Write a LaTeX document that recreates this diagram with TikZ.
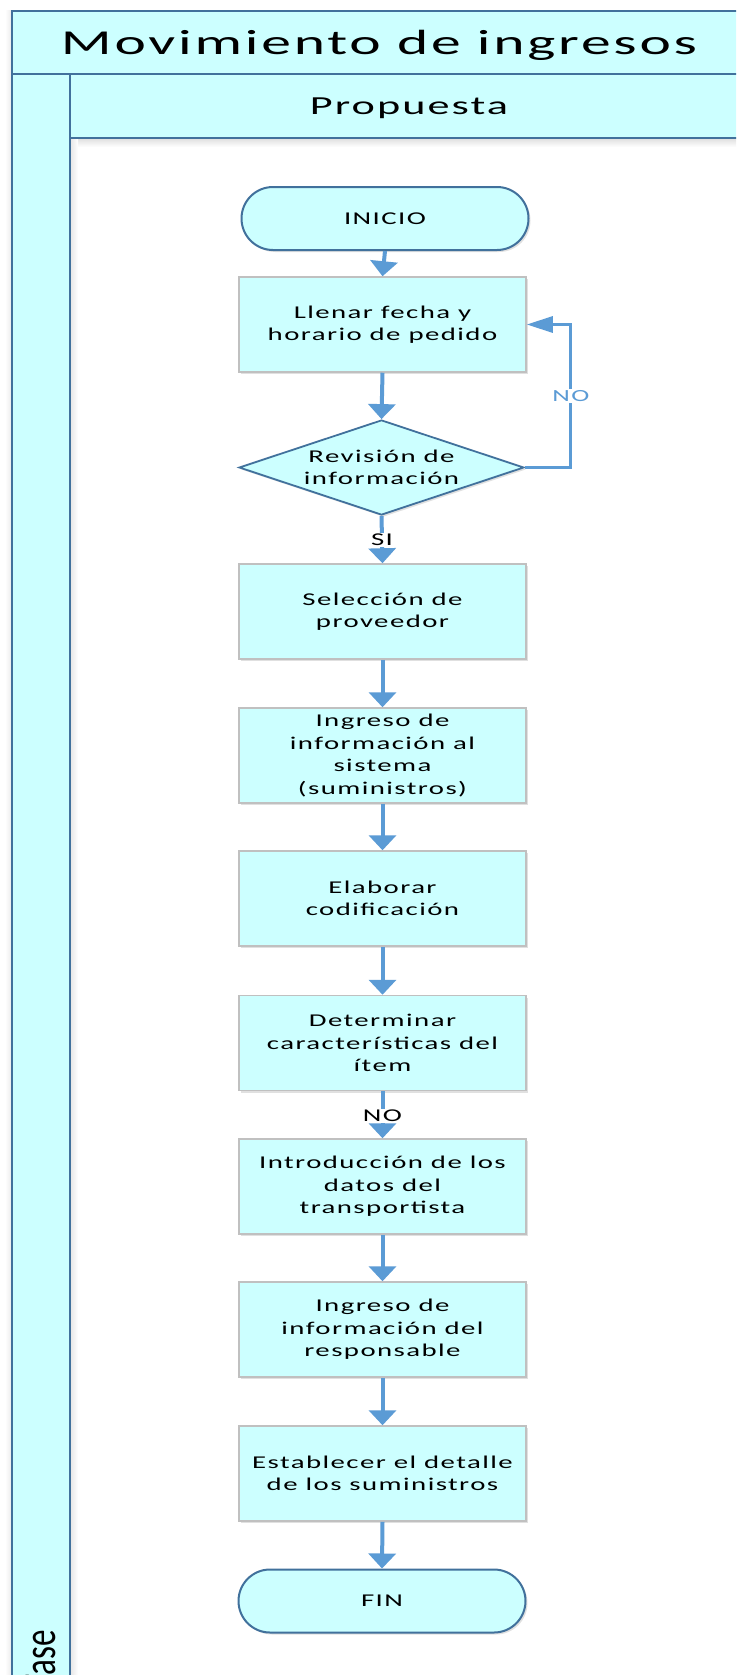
\documentclass[tikz,border=0pt]{standalone}
\usepackage{fontspec}
\newfontfamily\boxfont[FakeStretch=1.6,LetterSpace=8]{Carlito}
\newfontfamily\titlefont[FakeStretch=1.7,LetterSpace=8]{Carlito}
\newfontfamily\fasefont{Carlito}
\usetikzlibrary{arrows.meta,shapes.geometric,shapes.misc,shadows}
\definecolor{cyanfill}{HTML}{CCFFFF}
\definecolor{frameblue}{HTML}{41719C}
\definecolor{arrowblue}{HTML}{5B9BD5}
\definecolor{boxgray}{HTML}{C0C0C0}
\tikzset{
  frameline/.style={draw=frameblue, line width=2pt},
  procbox/.style={draw=boxgray, line width=1.5pt, fill=cyanfill, minimum width=287pt, minimum height=95pt,
    inner sep=0pt, align=center, font=\boxfont\fontsize{18}{22.5}\selectfont,
    drop shadow={shadow xshift=2pt, shadow yshift=-2pt, opacity=0.12, fill=black}},
  termbox/.style={rounded rectangle, draw=frameblue, line width=2pt, fill=cyanfill, minimum width=287pt,
    minimum height=63pt, inner sep=0pt, font=\boxfont\fontsize{18}{22.5}\selectfont,
    drop shadow={shadow xshift=2pt, shadow yshift=-2pt, opacity=0.12, fill=black}},
  decbox/.style={diamond, aspect=3, draw=frameblue, line width=1.8pt, fill=cyanfill, minimum width=285pt,
    minimum height=95pt, inner sep=0pt,
    drop shadow={shadow xshift=2pt, shadow yshift=-2pt, opacity=0.12, fill=black}},
  flow/.style={draw=arrowblue, line width=4pt, -{Triangle[length=15pt,width=27pt]}},
  loopflow/.style={draw=arrowblue, line width=3pt, -{Triangle[length=26pt,width=16pt]}},
  lbl/.style={fill=white, inner sep=1pt, font=\boxfont\fontsize{18}{18}\selectfont},
  looplbl/.style={fill=white, inner sep=1pt, text=arrowblue, font=\boxfont\fontsize{17}{17}\selectfont},
}
\begin{document}
\begin{tikzpicture}[x=1pt,y=-1pt]
\useasboundingbox (0,0) rectangle (736,1675);
\fill[white] (0,0) rectangle (736,1675);
\begin{scope}
\clip (0,0) rectangle (736,1675);
% swimlane frame
\fill[cyanfill] (12,11) rectangle (752,74);
\fill[cyanfill] (12,74) rectangle (70,1700);
\fill[cyanfill] (70,74) rectangle (752,138);
\shade[top color=black!13, bottom color=white] (70,138) rectangle (752,147);
\shade[left color=black!10, right color=white] (70,138) rectangle (78,1700);
\shade[right color=black!8, left color=white] (5,11) rectangle (12,1700);
\draw[frameline] (12,1700) -- (12,11) -- (752,11);
\draw[frameline] (12,74) -- (752,74);
\draw[frameline] (70,74) -- (70,1700);
\draw[frameline] (70,138) -- (752,138);
\node[anchor=base, inner sep=0pt, font=\titlefont\fontsize{35}{35}\selectfont] (title) at (379,54.3) {Movimiento de ingresos};
\node[anchor=base, inner sep=0pt, font=\titlefont\fontsize{26}{26}\selectfont] (prop) at (409,115) {Propuesta};
\node[rotate=90, anchor=base east, inner sep=0pt, font=\fasefont\fontsize{46}{46}\selectfont] (fase) at (55,1630) {\scalebox{0.72}[1]{Fase}};
\end{scope}

% flow nodes
\node[termbox] (inicio) at (385,218.5) {INICIO};
\node[procbox] (b1) at (382.5,324.5) {Llenar fecha y\\horario de pedido};
\node[decbox, label={[align=center, font=\boxfont\fontsize{18}{22.5}\selectfont]center:Revisión de\\información}] (dia) at (381.5,467.5) {};
\node[procbox] (b2) at (382.5,611.5) {Selección de\\proveedor};
\node[procbox] (b3) at (382.5,755.5) {Ingreso de\\información al\\sistema\\(suministros)};
\node[procbox] (b4) at (382.5,898.5) {Elaborar\\codificación};
\node[procbox] (b5) at (382.5,1043) {Determinar\\características del\\ítem};
\node[procbox] (b6) at (382.5,1186.5) {Introducción de los\\datos del\\transportista};
\node[procbox] (b7) at (382.5,1329.5) {Ingreso de\\información del\\responsable};
\node[procbox] (b8) at (382.5,1473.5) {Establecer el detalle\\de los suministros};
\node[termbox] (fin) at (382,1601) {FIN};

% connectors
\draw[flow] (inicio.south) -- (b1.north);
\draw[flow] (b1.south) -- (dia.north);
\draw[loopflow] (dia.east) -- ++(46,0) |- node[pos=0.25, looplbl] (nolbl) {NO} (b1.east);
\draw[flow] (dia.south) -- node[pos=0.51, lbl] (si) {SI} (b2.north);
\draw[flow] (b2.south) -- (b3.north);
\draw[flow] (b3.south) -- (b4.north);
\draw[flow] (b4.south) -- (b5.north);
\draw[flow] (b5.south) -- node[pos=0.52, lbl] (no2) {NO} (b6.north);
\draw[flow] (b6.south) -- (b7.north);
\draw[flow] (b7.south) -- (b8.north);
\draw[flow] (b8.south) -- (fin.north);
\end{tikzpicture}
\end{document}
